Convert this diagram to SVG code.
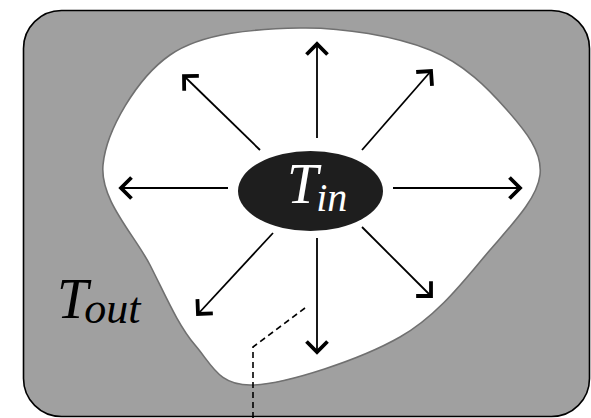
<svg xmlns="http://www.w3.org/2000/svg" width="591" height="418" viewBox="0 0 591 418">
<style>
.arrow{stroke:#000;stroke-width:1.8;fill:none;marker-end:url(#head)}
.lbl{font-family:"Liberation Serif","Times New Roman",serif;font-style:italic}
</style>
<defs>
<marker id="head" markerUnits="userSpaceOnUse" markerWidth="30" markerHeight="30" viewBox="-15 -15 30 30" refX="0" refY="0" orient="auto">
<path d="M-10.5,-10.5 L0,0 L-10.5,10.5" fill="none" stroke="#000" stroke-width="3.8"/>
</marker>
</defs>
<g id="outside">
<rect x="23.5" y="10.5" width="566" height="406" rx="38" ry="38" fill="#a0a0a0" stroke="#000" stroke-width="1.6"/>
<text class="lbl" x="57" y="318" font-size="56" fill="#000">T<tspan font-size="44" dx="-4" dy="5">out</tspan></text>
</g>
<g id="region">
<path d="M300,28 C343.3,27.2 395.5,36.3 430,50 C464.5,63.7 488.7,89.2 507,110 C525.3,130.8 542.8,151.7 540,175 C537.2,198.3 513.3,223 490,250 C466.7,277 439.5,314.5 400,337 C360.5,359.5 287.2,383.7 253,385 C218.8,386.3 212.2,365 195,345 C177.8,325 165.3,295 150,265 C134.7,235 99.7,200 103,165 C106.3,130 137.2,77.8 170,55 C202.8,32.2 256.7,28.8 300,28 Z" fill="#fff" stroke="#707070" stroke-width="1.6"/>
</g>
<g id="connectors">
<line class="arrow" x1="317" y1="138" x2="317" y2="44"/>
<line class="arrow" x1="317" y1="238" x2="317" y2="352"/>
<line class="arrow" x1="228" y1="188" x2="121" y2="188"/>
<line class="arrow" x1="393" y1="188" x2="520" y2="188"/>
<line class="arrow" x1="260" y1="150" x2="184" y2="76"/>
<line class="arrow" x1="362" y1="150" x2="431" y2="71"/>
<line class="arrow" x1="362" y1="227" x2="431" y2="296"/>
<line class="arrow" x1="273" y1="233" x2="198" y2="314"/>
<polyline points="305,308 253,347 253,418" fill="none" stroke="#000" stroke-width="1.6" stroke-dasharray="6,4"/>
</g>
<g id="inner">
<ellipse cx="310.5" cy="191" rx="72.5" ry="40" fill="#1e1e1e"/>
<text class="lbl" x="287" y="203" font-size="56" fill="#fff">T<tspan font-size="40" dx="-2" dy="8">in</tspan></text>
</g>
</svg>
